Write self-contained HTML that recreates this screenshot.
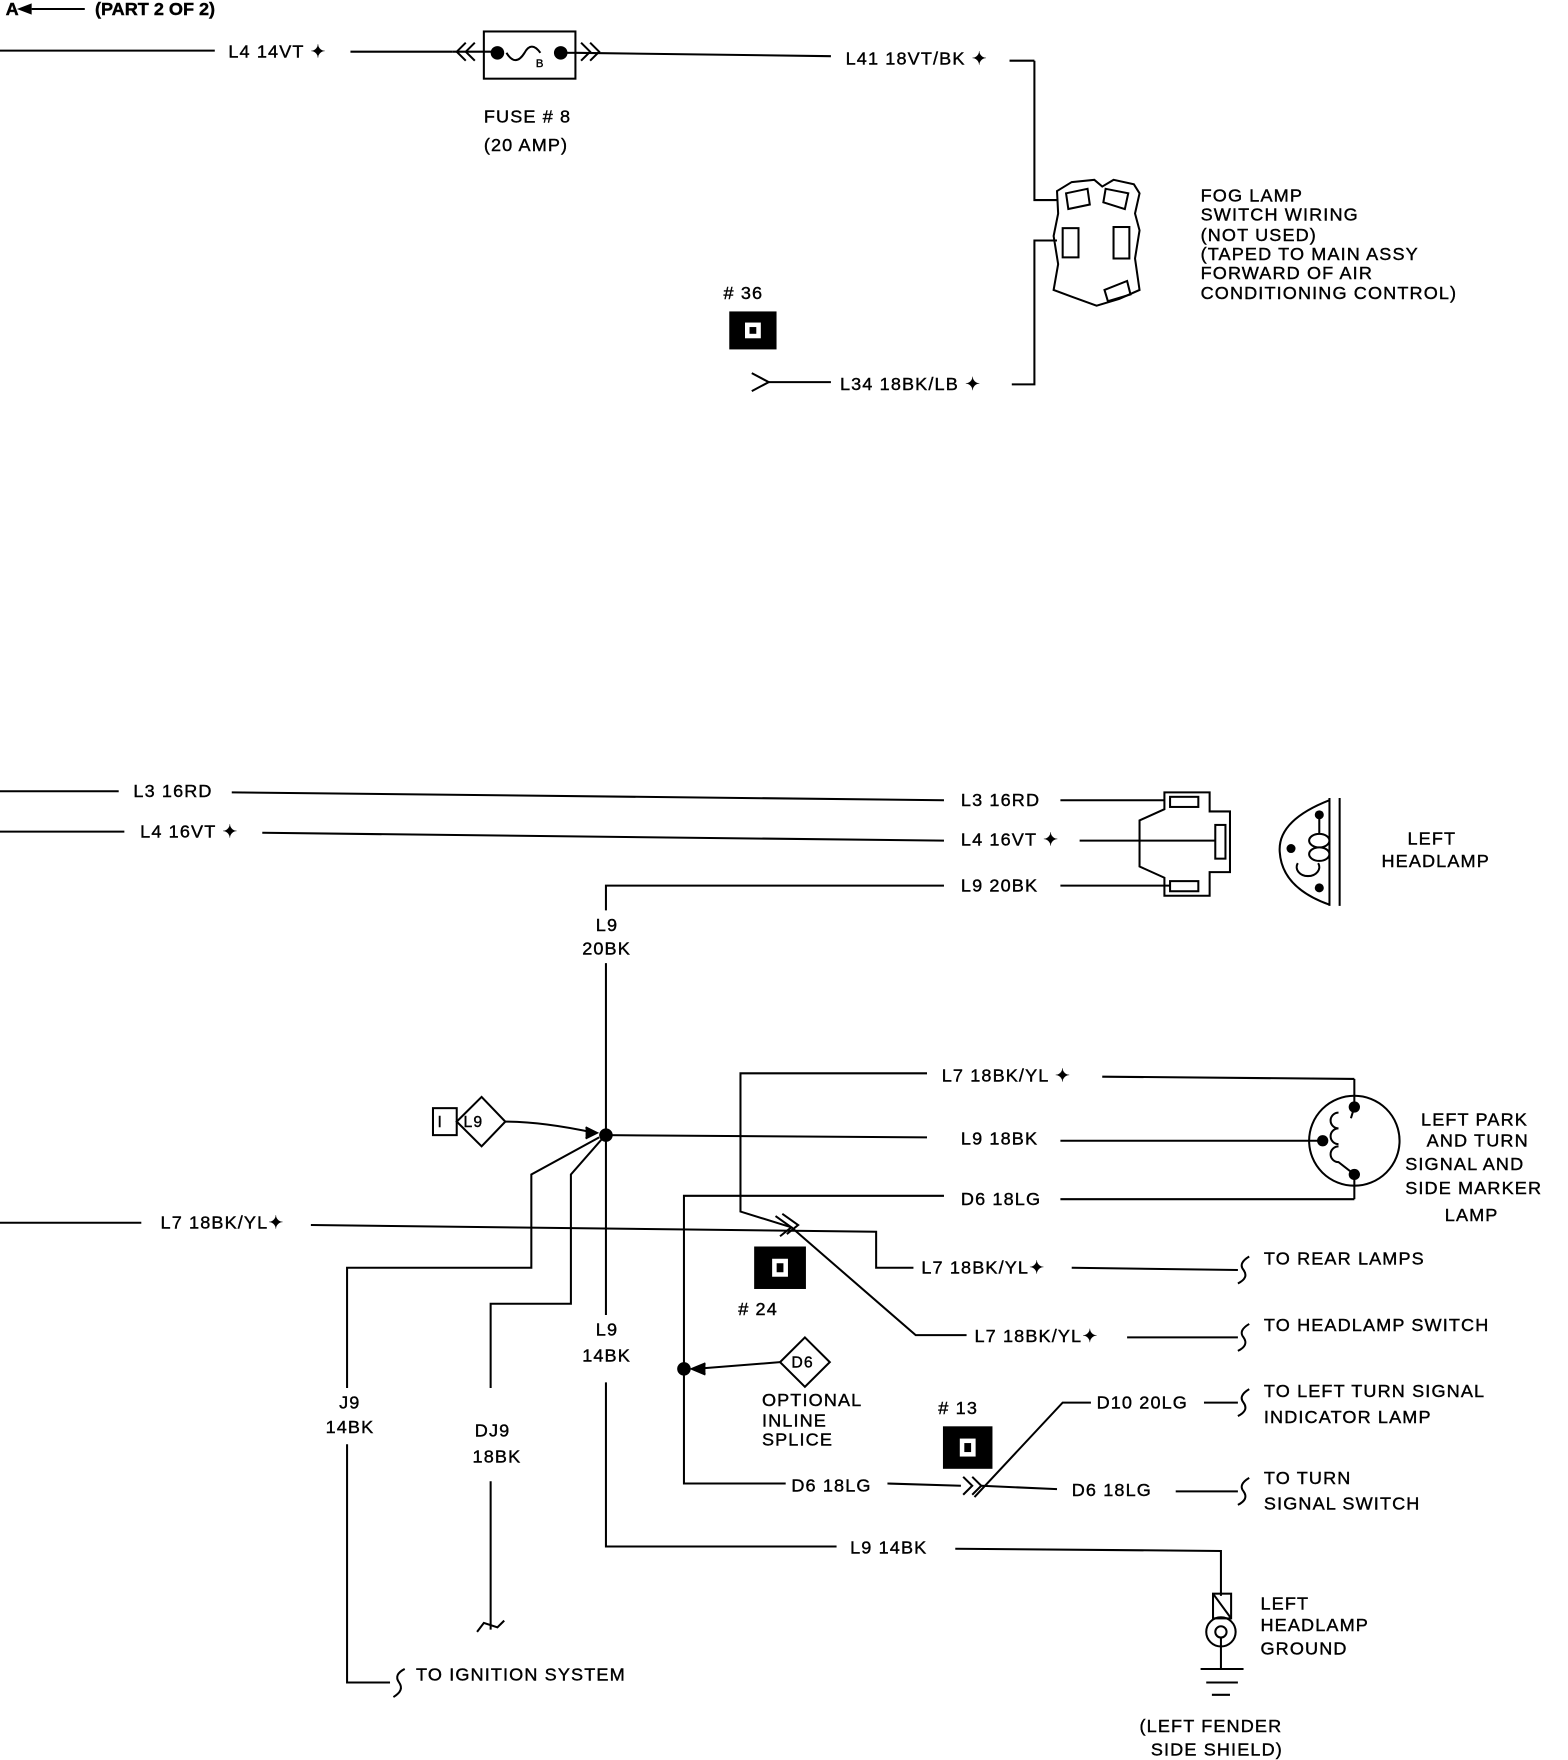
<!DOCTYPE html>
<html><head><meta charset="utf-8"><style>
html,body{margin:0;padding:0;background:#fff;}
svg{display:block;}
text{font-family:"Liberation Sans",sans-serif;font-size:16px;fill:#000;dominant-baseline:middle;letter-spacing:1px;stroke:#000;stroke-width:0.35;}
</style></head><body>
<svg width="1568" height="1760" viewBox="0 0 1387 1566" preserveAspectRatio="none" xmlns="http://www.w3.org/2000/svg">
<g stroke="#000" stroke-width="1.8" fill="none">
<line x1="28" y1="8" x2="75" y2="8"/>
<line x1="0" y1="45" x2="190" y2="45"/>
<line x1="310" y1="46" x2="400" y2="46"/>
<path d="M412 38 L404 46 L412 54 M420 38 L412 46 L420 54"/>
<line x1="400" y1="46" x2="440" y2="46"/>
<rect x="428" y="28" width="81" height="42"/>
<path d="M448 47 Q456 60 464 47 Q470 36 478 47"/>
<line x1="496" y1="47" x2="509" y2="47"/>
<path d="M514 38 L522 46 L514 54 M522 38 L530 46 L522 54"/>
<line x1="509" y1="47" x2="735" y2="50"/>
<line x1="893" y1="54" x2="915" y2="54"/>
<polyline points="915,54 915,178 935,178"/>
<polyline points="935,214 915,214 915,342 895,342"/>
<line x1="680" y1="340" x2="735" y2="340"/>
<path d="M665 332 L680 340 L665 348"/>
<path d="M935 170 L948 162 L968 160 L975 166 L985 160 L1003 164 L1008 172 L1004 190 L1008 205 L1004 230 L1008 258 L990 266 L970 272 L948 264 L932 258 L936 235 L932 210 L936 190 Z"/>
<path d="M943 172 L962 168 L964 182 L945 186 Z"/>
<path d="M978 168 L998 172 L995 186 L976 180 Z"/>
<rect x="940" y="203" width="14" height="26"/>
<rect x="985" y="202" width="14" height="28"/>
<path d="M977 258 L997 250 L1000 262 L980 268 Z"/>
<rect x="646" y="278" width="40" height="32" fill="#000"/>
<line x1="0" y1="704" x2="105" y2="704"/>
<line x1="205" y1="705" x2="835" y2="712"/>
<line x1="938" y1="712" x2="1030" y2="712"/>
<line x1="0" y1="740" x2="110" y2="740"/>
<line x1="232" y1="741" x2="835" y2="748"/>
<line x1="955" y1="748" x2="1075" y2="748"/>
<polyline points="536,810 536,788 835,788"/>
<line x1="938" y1="788" x2="1035" y2="788"/>
<path d="M1030 705 L1070 705 L1070 722 L1088 722 L1088 776 L1070 776 L1070 797 L1030 797 L1030 781 L1008 771 L1008 730 L1030 720 Z"/>
<rect x="1035" y="709" width="25" height="9"/>
<rect x="1075" y="734" width="9" height="30"/>
<rect x="1035" y="784" width="25" height="9"/>
<path d="M1176 712 Q1130 730 1132 758 Q1134 790 1176 805"/>
<line x1="1176" y1="710" x2="1176" y2="806"/>
<line x1="1185" y1="710" x2="1185" y2="806"/>
<path d="M1167 728 L1167 742 M1158 748 a9 6 0 1 0 18 0 a9 6 0 1 0 -18 0 M1158 760 a9 6 0 1 0 18 0 a9 6 0 1 0 -18 0 M1148 768 a10 8 0 1 0 18 0"/>
<line x1="536" y1="857" x2="536" y2="1170"/>
<polyline points="536,1230 536,1376 740,1376"/>
<polyline points="845,1378 1080,1380 1080,1420"/>
<line x1="536" y1="1010" x2="820" y2="1012"/>
<line x1="938" y1="1015" x2="1170" y2="1015"/>
<rect x="383" y="986" width="21" height="24"/>
<path d="M404 998 L426 976 L447 998 L426 1020 Z"/>
<path d="M447 998 Q480 998 526 1008"/>
<path d="M518 1003 L528 1008 L518 1013" fill="#000"/>
<polyline points="530,1012 470,1045 470,1128 307,1128 307,1235"/>
<polyline points="307,1285 307,1497 345,1497"/>
<path d="M358 1485 Q348 1490 353 1497 Q358 1504 348 1510"/>
<polyline points="532,1014 505,1045 505,1160 434,1160 434,1235"/>
<line x1="434" y1="1318" x2="434" y2="1450"/>
<path d="M422 1452 L428 1444 L440 1448 L446 1442"/>
<line x1="0" y1="1088" x2="125" y2="1088"/>
<polyline points="275,1090 775,1096 775,1128 808,1128"/>
<line x1="948" y1="1128" x2="1095" y2="1130"/>
<path d="M1105 1118 Q1095 1124 1100 1130 Q1105 1137 1095 1142"/>
<polyline points="820,955 655,955 655,1078 700,1092"/>
<line x1="975" y1="958" x2="1198" y2="960"/>
<line x1="1198" y1="960" x2="1198" y2="985"/>
<path d="M686 1082 L700 1092 L690 1100 M692 1080 L706 1090 L696 1098"/>
<polyline points="700,1092 810,1188 855,1188"/>
<line x1="997" y1="1190" x2="1095" y2="1190"/>
<path d="M1105 1178 Q1095 1184 1100 1190 Q1105 1197 1095 1202"/>
<circle cx="1198" cy="1015" r="40"/>
<path d="M1198 985 L1195 995 M1184 990 a7 7 0 1 0 0 14 M1184 1004 a7 7 0 1 0 0 14 M1184 1020 a7 7 0 1 0 0 14 L1198 1045"/>
<line x1="938" y1="1067" x2="1198" y2="1067"/>
<line x1="1198" y1="1045" x2="1198" y2="1067"/>
<polyline points="835,1064 605,1064 605,1320 695,1320"/>
<line x1="785" y1="1320" x2="850" y2="1322"/>
<path d="M852 1314 L860 1322 L852 1330 M860 1314 L868 1322 L860 1330"/>
<line x1="868" y1="1322" x2="935" y2="1325"/>
<line x1="1040" y1="1327" x2="1095" y2="1327"/>
<path d="M1105 1315 Q1095 1321 1100 1327 Q1105 1334 1095 1339"/>
<path d="M712 1190 L734 1212 L712 1234 L690 1212 Z"/>
<path d="M690 1212 L615 1218"/>
<path d="M624 1213 L612 1218 L624 1223" fill="#000"/>
<polyline points="862,1332 940,1248 965,1248"/>
<line x1="1065" y1="1248" x2="1095" y2="1248"/>
<path d="M1105 1236 Q1095 1242 1100 1248 Q1105 1255 1095 1260"/>
<rect x="668" y="1110" width="44" height="36" fill="#000"/>
<rect x="835" y="1270" width="42" height="36" fill="#000"/>
<rect x="1073" y="1418" width="16" height="22"/>
<line x1="1073" y1="1418" x2="1089" y2="1440"/>
<circle cx="1080" cy="1452" r="13"/>
<circle cx="1080" cy="1452" r="5"/>
<line x1="1080" y1="1457" x2="1080" y2="1485"/>
<line x1="1062" y1="1485" x2="1100" y2="1485"/>
<line x1="1067" y1="1497" x2="1095" y2="1497"/>
<line x1="1072" y1="1508" x2="1088" y2="1508"/>
</g>
<g fill="#000">
<path d="M15 8 L28 3 L28 13 Z"/>
<circle cx="440" cy="47" r="6"/><circle cx="496" cy="47" r="6"/>
<circle cx="536" cy="1010" r="6"/><circle cx="605" cy="1218" r="6"/>
<circle cx="1198" cy="985" r="5"/><circle cx="1170" cy="1015" r="5"/><circle cx="1198" cy="1045" r="5"/>
<circle cx="1167" cy="725" r="4"/><circle cx="1142" cy="755" r="4"/><circle cx="1167" cy="790" r="4"/>
</g>
<g fill="#fff" stroke="none">
<rect x="659" y="287" width="14" height="14"/>
<rect x="683" y="1120" width="14" height="16"/>
<rect x="849" y="1280" width="14" height="16"/>
</g>
<g fill="#000">
<rect x="663" y="291" width="6" height="6"/>
<rect x="687" y="1124" width="6" height="8"/>
<rect x="853" y="1284" width="6" height="8"/>
</g>
<text x="5" y="9" style="font-weight:bold;letter-spacing:0">A</text>
<text x="84" y="9" style="font-weight:bold;letter-spacing:0">(PART 2 OF 2)</text>
<text x="202" y="47">L4  14VT ✦</text>
<text x="474" y="57" style="font-size:10px">B</text>
<text x="428" y="105">FUSE # 8</text>
<text x="428" y="130">(20 AMP)</text>
<text x="748" y="53">L41  18VT/BK ✦</text>
<text x="743" y="343">L34  18BK/LB ✦</text>
<text x="640" y="262">#  36</text>
<text x="1062" y="175">FOG LAMP</text>
<text x="1062" y="192">SWITCH WIRING</text>
<text x="1062" y="210">(NOT USED)</text>
<text x="1062" y="227">(TAPED TO MAIN ASSY</text>
<text x="1062" y="244">FORWARD OF AIR</text>
<text x="1062" y="262">CONDITIONING CONTROL)</text>
<text x="118" y="705">L3  16RD</text>
<text x="850" y="713">L3  16RD</text>
<text x="124" y="741">L4  16VT ✦</text>
<text x="850" y="748">L4  16VT ✦</text>
<text x="850" y="789">L9  20BK</text>
<text x="1245" y="747">LEFT</text>
<text x="1222" y="767">HEADLAMP</text>
<text x="527" y="824">L9</text>
<text x="515" y="845">20BK</text>
<text x="410" y="999" style="font-size:14px">L9</text>
<text x="387" y="999" style="font-size:14px">I</text>
<text x="833" y="958">L7  18BK/YL ✦</text>
<text x="850" y="1014">L9  18BK</text>
<text x="850" y="1068">D6  18LG</text>
<text x="1257" y="997">LEFT PARK</text>
<text x="1262" y="1016">AND TURN</text>
<text x="1243" y="1037">SIGNAL AND</text>
<text x="1243" y="1058">SIDE MARKER</text>
<text x="1278" y="1082">LAMP</text>
<text x="142" y="1089">L7  18BK/YL✦</text>
<text x="815" y="1129">L7  18BK/YL✦</text>
<text x="1118" y="1121">TO REAR LAMPS</text>
<text x="653" y="1166">#  24</text>
<text x="862" y="1190">L7  18BK/YL✦</text>
<text x="1118" y="1180">TO HEADLAMP SWITCH</text>
<text x="527" y="1184">L9</text>
<text x="515" y="1207">14BK</text>
<text x="700" y="1213" style="font-size:14px">D6</text>
<text x="674" y="1247">OPTIONAL</text>
<text x="674" y="1265">INLINE</text>
<text x="674" y="1282">SPLICE</text>
<text x="300" y="1249">J9</text>
<text x="288" y="1271">14BK</text>
<text x="420" y="1274">DJ9</text>
<text x="418" y="1297">18BK</text>
<text x="830" y="1254">#  13</text>
<text x="970" y="1249">D10  20LG</text>
<text x="1118" y="1239">TO LEFT TURN SIGNAL</text>
<text x="1118" y="1262">INDICATOR LAMP</text>
<text x="700" y="1323">D6  18LG</text>
<text x="948" y="1327">D6  18LG</text>
<text x="1118" y="1316">TO TURN</text>
<text x="1118" y="1339">SIGNAL SWITCH</text>
<text x="752" y="1378">L9  14BK</text>
<text x="1115" y="1428">LEFT</text>
<text x="1115" y="1447">HEADLAMP</text>
<text x="1115" y="1468">GROUND</text>
<text x="368" y="1491">TO IGNITION SYSTEM</text>
<text x="1008" y="1537">(LEFT FENDER</text>
<text x="1018" y="1558">SIDE SHIELD)</text>
</svg>
</body></html>
